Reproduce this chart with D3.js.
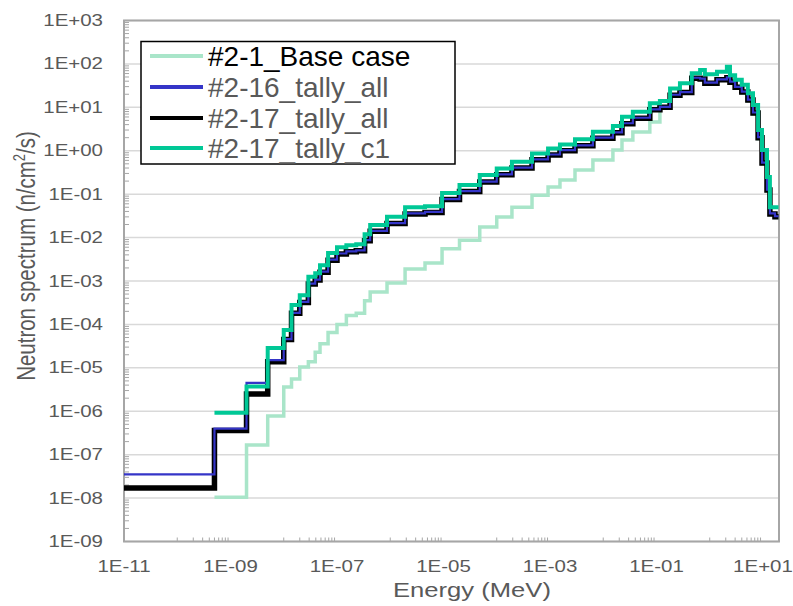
<!DOCTYPE html>
<html>
<head>
<meta charset="utf-8">
<script src="https://cdn.jsdelivr.net/npm/d3@7"></script>
<style>
  html, body { margin: 0; padding: 0; background: #fff; }
  svg { display: block; font-family: "Liberation Sans", Arial, sans-serif; }
</style>
</head>
<body>
<svg id="chart" width="793" height="606"></svg>
<script>
// Group boundaries (MeV)
const edges = [1e-11, 5e-10, 2e-9, 5e-9, 1e-8, 1.4e-8, 2e-8, 2.9e-8, 3.9e-8, 4.8e-8,
  6.8e-8, 1e-7, 1.5e-7, 2.3e-7, 3.3e-7, 4.2e-7, 8.7e-7, 1.9e-6, 4.5e-6, 9.4e-6,
  2e-5, 4.8e-5, 1e-4, 1.93e-4, 4.6e-4, 9.2e-4, 1.54e-3, 2.95e-3, 6.4e-3, 0.0152,
  0.0225, 0.036, 0.075, 0.116, 0.18, 0.276, 0.46, 0.66, 0.81, 1.37, 2.1, 2.4, 3.0,
  4.0, 5.2, 6.5, 8.1, 9.6, 11.9, 13.5, 16.8, 19.6];

// Group fluxes (n/cm2/s); null = no flux in that group
const baseCase = [null, 1.05e-8, 1.66e-7, 7.8e-7, 3.6e-6, 5.5e-6, 1.05e-5, 1.38e-5,
  2.3e-5, 3.6e-5, 6.5e-5, 1.0e-4, 1.6e-4, 1.8e-4, 3.5e-4, 5.6e-4, 9e-4, 1.9e-3,
  2.6e-3, 5.5e-3, 8.7e-3, 1.75e-2, 0.0296, 0.050, 0.095, 0.146, 0.211, 0.36, 0.61,
  1.04, 1.77, 2.7, 4.6, 9.6, 18.5, 21, 45, 43, 35, 42, 46, 37, 28, 21.5, 14, 7,
  1.9, 0.5, 0.12, 0.034, 0.029];
const tally16All = [3.5e-8, 4.0e-7, 4.5e-6, 1.5e-5, 4.6e-5, 1.85e-4, 3.3e-4, 8.7e-4,
  1.08e-3, 1.65e-3, 3.1e-3, 4.3e-3, 4.8e-3, 5.1e-3, 8.7e-3, 1.43e-2, 2.15e-2, 3.6e-2,
  3.9e-2, 7.7e-2, 0.118, 0.195, 0.285, 0.41, 0.635, 0.82, 1.03, 1.33, 2.0, 2.65, 4.3,
  5.75, 9.0, 10.2, 19.5, 22.5, 48, 46, 37, 44, 49, 39, 29.5, 23, 15, 7.6, 2.05, 0.53,
  0.127, 0.036, 0.031];
const tally17All = [1.7e-8, 3.6e-7, 2.5e-6, 1.38e-5, 4.5e-5, 1.8e-4, 3.2e-4, 8.5e-4,
  1.05e-3, 1.6e-3, 3.0e-3, 4.2e-3, 4.7e-3, 5.0e-3, 8.5e-3, 1.4e-2, 2.1e-2, 3.5e-2,
  3.8e-2, 7.5e-2, 0.115, 0.19, 0.28, 0.40, 0.62, 0.80, 1.0, 1.3, 1.95, 2.6, 4.2,
  5.6, 8.8, 10, 19, 22, 47, 45, 36, 43, 48, 38, 29, 22.5, 14.7, 7.4, 2.0, 0.52,
  0.124, 0.035, 0.03];
const tally17C1 = [null, 9.2e-7, 3.7e-6, 2.85e-5, 7.4e-5, 2.8e-4, 4.7e-4, 1.25e-3,
  1.5e-3, 2.3e-3, 4.4e-3, 6.0e-3, 6.7e-3, 7.0e-3, 1.2e-2, 1.95e-2, 3.0e-2, 5.0e-2,
  5.3e-2, 0.106, 0.162, 0.275, 0.39, 0.56, 0.87, 1.13, 1.40, 1.83, 2.74, 3.7, 6.1,
  7.9, 12.4, 14, 27, 36, 61, 72, 58, 66, 86, 55, 43, 33, 21, 11.3, 3.0, 1.04, 0.25,
  0.05, 0.05];

const yTicks = ["1E+03", "1E+02", "1E+01", "1E+00", "1E-01", "1E-02", "1E-03",
  "1E-04", "1E-05", "1E-06", "1E-07", "1E-08", "1E-09"];
const xTicks = ["1E-11", "1E-09", "1E-07", "1E-05", "1E-03", "1E-01", "1E+01"];

const seriesNames = ["#2-1_Base case", "#2-16_tally_all", "#2-17_tally_all", "#2-17_tally_c1"];
const seriesColors = ["#a9e5c9", "#3535c8", "#000000", "#00c896"];
const seriesData = [baseCase, tally16All, tally17All, tally17C1];

const svg = d3.select("#chart");
const margin = { left: 124, top: 20.5, right: 779, bottom: 541.5 };
const x = d3.scaleLog().domain([1e-11, 20]).range([margin.left, margin.right]);
const y = d3.scaleLog().domain([1e-9, 1e3]).range([margin.bottom, margin.top]);
const textGray = "#595959";
const axisGray = "#a6a6a6";
const stretch = 1.28;

// horizontal gridlines at each decade
svg.append("g").selectAll("line")
  .data(yTicks.map(Number))
  .join("line")
  .attr("x1", margin.left).attr("x2", margin.right)
  .attr("y1", d => y(d)).attr("y2", d => y(d))
  .attr("stroke", "#d9d9d9").attr("stroke-width", 1.5);

// y minor ticks (inside)
const yMinor = [];
for (let p = -9; p < 3; p++) for (let k = 2; k <= 9; k++) yMinor.push(k * Math.pow(10, p));
svg.append("g").selectAll("line").data(yMinor).join("line")
  .attr("x1", margin.left).attr("x2", margin.left + 5)
  .attr("y1", d => y(d)).attr("y2", d => y(d))
  .attr("stroke", axisGray).attr("stroke-width", 1);

// x minor ticks: base-100 axis, ticks at 10..90 x each major
const xMinor = [];
for (let p = -11; p < 1; p += 2) for (let k = 1; k <= 9; k++) xMinor.push(k * 10 * Math.pow(10, p));
svg.append("g").selectAll("line").data(xMinor).join("line")
  .attr("x1", d => x(d)).attr("x2", d => x(d))
  .attr("y1", margin.bottom).attr("y2", margin.bottom - 4)
  .attr("stroke", axisGray).attr("stroke-width", 1);

// plot-area frame
svg.append("rect")
  .attr("x", margin.left).attr("y", margin.top)
  .attr("width", margin.right - margin.left).attr("height", margin.bottom - margin.top)
  .attr("fill", "none").attr("stroke", axisGray).attr("stroke-width", 2);

// clip for the series
svg.append("clipPath").attr("id", "plotClip").append("rect")
  .attr("x", margin.left).attr("y", margin.top)
  .attr("width", margin.right - margin.left).attr("height", margin.bottom - margin.top);

function stepPoints(vals) {
  const pts = [];
  vals.forEach((v, i) => { if (v != null) pts.push([edges[i], v]); });
  const last = vals.length - 1;
  pts.push([edges[last + 1], vals[last]]);
  return pts;
}
const line = d3.line().x(d => x(d[0])).y(d => y(d[1])).curve(d3.curveStepAfter);

// draw order: base, 17_all, 16_all (thin, on top of black), c1
const widths = [3.5, 2.2, 5.5, 4];
const g = svg.append("g").attr("clip-path", "url(#plotClip)");
[0, 2, 1, 3].forEach(i => {
  g.append("path")
    .attr("d", line(stepPoints(seriesData[i])))
    .attr("fill", "none")
    .attr("stroke", seriesColors[i])
    .attr("stroke-width", widths[i])
    .attr("stroke-linejoin", "miter");
});

// y tick labels
svg.append("g").selectAll("text").data(yTicks).join("text")
  .attr("transform", d => `translate(103,${y(+d) + 5.5}) scale(${stretch},1)`)
  .attr("text-anchor", "end")
  .attr("font-size", 16).attr("fill", textGray)
  .text(d => d);

// x tick labels
svg.append("g").selectAll("text").data(xTicks).join("text")
  .attr("transform", d => `translate(${x(+d)},572) scale(${stretch},1)`)
  .attr("text-anchor", "middle")
  .attr("font-size", 16).attr("fill", textGray)
  .text(d => d);

// axis titles
svg.append("text")
  .attr("transform", `translate(472,597) scale(${stretch},1)`)
  .attr("text-anchor", "middle").attr("font-size", 20).attr("fill", textGray)
  .text("Energy (MeV)");

const yTitle = svg.append("text")
  .attr("transform", `translate(35,256) rotate(-90) scale(1,${stretch})`)
  .attr("text-anchor", "middle").attr("font-size", 20.5).attr("fill", textGray);
yTitle.append("tspan").text("Neutron spectrum  (n/cm");
yTitle.append("tspan").attr("font-size", 13).attr("dy", -8).text("2");
yTitle.append("tspan").attr("dy", 8).text("/s)");

// legend
const lg = svg.append("g");
lg.append("rect").attr("x", 141).attr("y", 41.5).attr("width", 314).attr("height", 122.5)
  .attr("fill", "#fff").attr("stroke", "#000").attr("stroke-width", 1.5);
const rowY = [56, 87, 118, 148];
seriesNames.forEach((name, i) => {
  lg.append("line").attr("x1", 150).attr("x2", 203).attr("y1", rowY[i]).attr("y2", rowY[i])
    .attr("stroke", seriesColors[i]).attr("stroke-width", 4);
  lg.append("text").attr("x", 208).attr("y", rowY[i] + 10)
    .attr("font-size", 28).attr("fill", i === 0 ? "#000" : textGray)
    .text(name);
});
</script>
</body>
</html>
